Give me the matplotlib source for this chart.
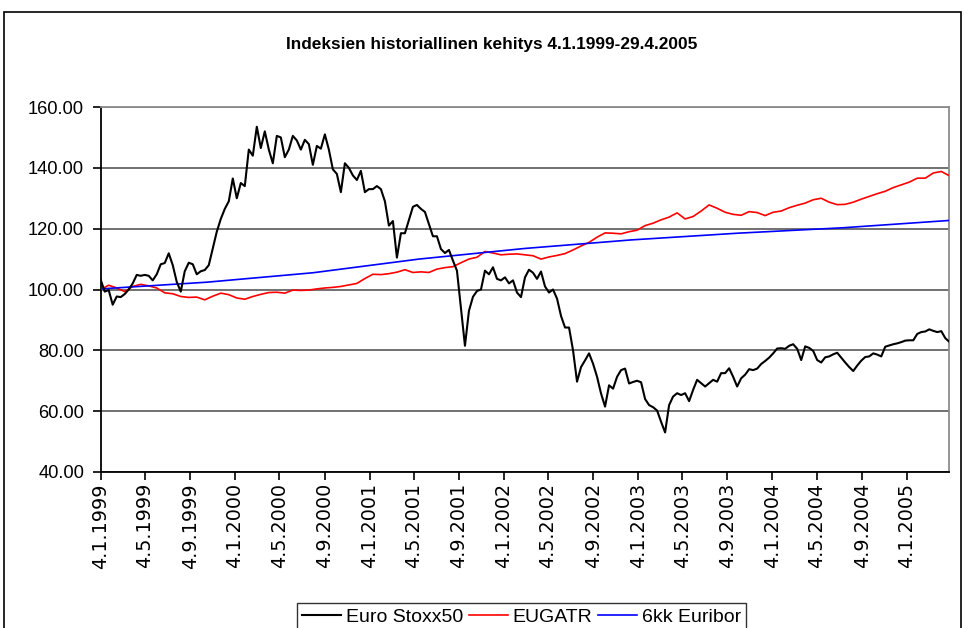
import matplotlib
matplotlib.use("Agg")
import matplotlib.pyplot as plt
from matplotlib.patches import Rectangle
import pandas as pd

start_date = "1999-01-04"
end_date = "2005-04-29"

title = "Indeksien historiallinen kehitys 4.1.1999-29.4.2005"
series_names = ["Euro Stoxx50", "EUGATR", "6kk Euribor"]

tick_dates = ["1999-01-04", "1999-05-04", "1999-09-04",
              "2000-01-04", "2000-05-04", "2000-09-04",
              "2001-01-04", "2001-05-04", "2001-09-04",
              "2002-01-04", "2002-05-04", "2002-09-04",
              "2003-01-04", "2003-05-04", "2003-09-04",
              "2004-01-04", "2004-05-04", "2004-09-04",
              "2005-01-04"]
tick_labels = ["4.1.1999", "4.5.1999", "4.9.1999",
               "4.1.2000", "4.5.2000", "4.9.2000",
               "4.1.2001", "4.5.2001", "4.9.2001",
               "4.1.2002", "4.5.2002", "4.9.2002",
               "4.1.2003", "4.5.2003", "4.9.2003",
               "4.1.2004", "4.5.2004", "4.9.2004",
               "4.1.2005"]

y_ticks = [40, 60, 80, 100, 120, 140, 160]

# Euro Stoxx50 (index, 4.1.1999 = 100), sampled evenly over the period
stoxx50 = [
    103.2, 99.3, 99.8, 95.0, 97.7, 97.5, 98.5, 100.0, 102.0, 104.8,
    104.5, 104.8, 104.5, 103.0, 105.0, 108.3, 108.7, 111.9, 108.0, 102.5,
    99.3, 106.0, 108.8, 108.3, 105.0, 106.0, 106.4,
    108.0, 113.5, 119.0, 123.2, 126.5, 129.0, 136.5, 130.0, 135.0, 134.0,
    146.0, 144.0, 153.5, 146.5, 152.0, 146.0, 141.5, 150.5, 150.0, 143.5,
    146.0, 150.5, 149.0, 146.0, 149.2, 147.8, 141.0,
    147.2, 146.3, 151.0, 146.0, 139.5, 138.0, 132.0, 141.5, 140.0, 137.5,
    136.0, 139.0, 132.0, 133.0, 133.0, 134.0, 133.0, 129.0, 121.0, 122.5,
    110.5, 118.5, 118.5, 122.8, 127.2, 127.8, 126.5,
    125.5, 121.5, 117.5, 117.5, 113.3, 112.0, 113.0, 109.5, 106.2, 94.0,
    81.5, 93.0, 97.6, 99.5, 100.0, 106.2, 105.0, 107.3, 103.5, 103.0,
    104.0, 102.0, 103.0, 99.0, 97.5, 104.0, 106.5,
    105.5, 103.5, 105.9, 101.0, 99.0, 100.0, 97.0, 91.3, 87.5, 87.5,
    80.0, 69.7, 74.5, 76.7, 79.0, 75.6, 71.3, 65.8, 61.5, 68.5,
    67.4, 71.3, 73.5, 74.0, 69.1, 69.6,
    70.0, 69.5, 64.0, 62.0, 61.3, 60.2, 56.5, 53.0, 62.0, 64.8,
    65.9, 65.3, 65.9, 63.3, 67.0, 70.3, 69.2, 68.1, 69.2, 70.3,
    69.7, 72.5, 72.5, 74.1, 71.3, 68.1, 70.8,
    72.0, 73.8, 73.5, 74.0, 75.5, 76.5, 77.6, 79.0, 80.6, 80.7,
    80.5, 81.5, 82.0, 80.5, 76.8, 81.3, 80.8, 79.8, 76.8, 76.0,
    77.7, 78.0, 78.7, 79.2, 77.6, 76.0, 74.5,
    73.2, 75.0, 76.6, 77.8, 78.0, 79.0, 78.6, 78.0, 81.2, 81.6,
    82.0, 82.3, 82.7, 83.2, 83.3, 83.3, 85.4, 86.0, 86.2, 86.9,
    86.4, 86.0, 86.3, 84.0, 82.8,
]

# EUGATR (euro government bond total return index)
eugatr = [
    100.0, 101.4, 100.5, 99.3, 101.0, 101.7, 101.2, 100.5, 98.9, 98.6,
    97.7, 97.4, 97.5, 96.6, 97.8, 98.8, 98.3, 97.2, 96.8, 97.7,
    98.4, 99.0, 99.1, 98.8, 99.8, 99.7, 99.8, 100.2, 100.5, 100.7,
    101.0, 101.5, 102.0, 103.6, 105.0, 104.9, 105.2, 105.7, 106.5, 105.6,
    105.8, 105.6, 106.7, 107.2, 107.5, 108.8, 110.0, 110.6, 112.5, 112.0,
    111.4, 111.6, 111.7, 111.4, 111.1, 110.0, 110.7, 111.2, 111.8, 113.0,
    114.3, 115.5, 117.2, 118.6, 118.5, 118.3, 119.0, 119.5, 121.0, 121.8,
    122.9, 123.8, 125.2, 123.2, 124.0, 125.8, 127.8, 126.7, 125.4, 124.7,
    124.4, 125.6, 125.3, 124.3, 125.4, 125.8, 126.9, 127.7, 128.4, 129.5,
    130.0, 128.7, 127.9, 128.0, 128.7, 129.7, 130.6, 131.5, 132.3, 133.5,
    134.4, 135.3, 136.6, 136.6, 138.3, 138.8, 137.4,
]

# 6kk Euribor (6-month Euribor money market index)
euribor6m = [100.2, 102.4, 105.5, 110.0, 113.5, 116.3, 118.5, 120.3, 122.7]


def dates_for(values):
    return pd.date_range(start_date, end_date, periods=len(values))


fig = plt.figure(figsize=(9.64, 6.28), dpi=100)
fig.patch.set_facecolor("white")

# outer chart border
fig.add_artist(Rectangle((3.5 / 964, -0.05), 957 / 964, 1.05 - 12.5 / 628,
                         transform=fig.transFigure, fill=False,
                         edgecolor="black", linewidth=1.2, zorder=0))

ax = fig.add_axes([100.7 / 964, 1 - 472 / 628, 848.6 / 964, 365 / 628])

ax.plot(dates_for(stoxx50), stoxx50, color="black", lw=1.5,
        label=series_names[0], zorder=4)
ax.plot(dates_for(eugatr), eugatr, color="#ff0000", lw=1.2,
        label=series_names[1], zorder=3)
ax.plot(dates_for(euribor6m), euribor6m, color="#0000ff", lw=1.2,
        label=series_names[2], zorder=3)

ax.set_xlim(pd.Timestamp(start_date), pd.Timestamp(end_date))
ax.set_ylim(40, 160)
ax.set_yticks(y_ticks)
ax.set_yticklabels([f"{v:.2f}" for v in y_ticks],
                   fontfamily="Liberation Sans", fontsize=13.2)
ax.set_xticks([pd.Timestamp(d) for d in tick_dates])
ax.set_xticklabels(tick_labels, rotation=90, fontfamily="DejaVu Sans",
                   fontsize=13.8)

ax.grid(axis="y", color="#666666", lw=1.3)
ax.set_axisbelow(True)
ax.tick_params(axis="both", direction="out", length=6, width=1.2,
               color="black")
ax.tick_params(axis="y", pad=6)
ax.tick_params(axis="x", pad=2)

for side in ("left", "bottom"):
    ax.spines[side].set_color("black")
    ax.spines[side].set_linewidth(1.3)
for side in ("top", "right"):
    ax.spines[side].set_color("#8c8c8c")
    ax.spines[side].set_linewidth(1.3)

fig.text(0.51, 1 - 44 / 628, title, ha="center", va="center",
         fontfamily="Liberation Sans", fontweight="bold", fontsize=12.4)

leg = fig.legend(loc="lower center", bbox_to_anchor=(0.541, -0.004), ncol=3,
                 frameon=True, fancybox=False, edgecolor="black",
                 prop={"family": "Liberation Sans", "size": 14},
                 handlelength=2.0, handletextpad=0.25, columnspacing=0.3,
                 borderpad=0.25, borderaxespad=0.0)
leg.get_frame().set_linewidth(1.0)

fig.savefig("out.png", dpi=100, facecolor="white")
